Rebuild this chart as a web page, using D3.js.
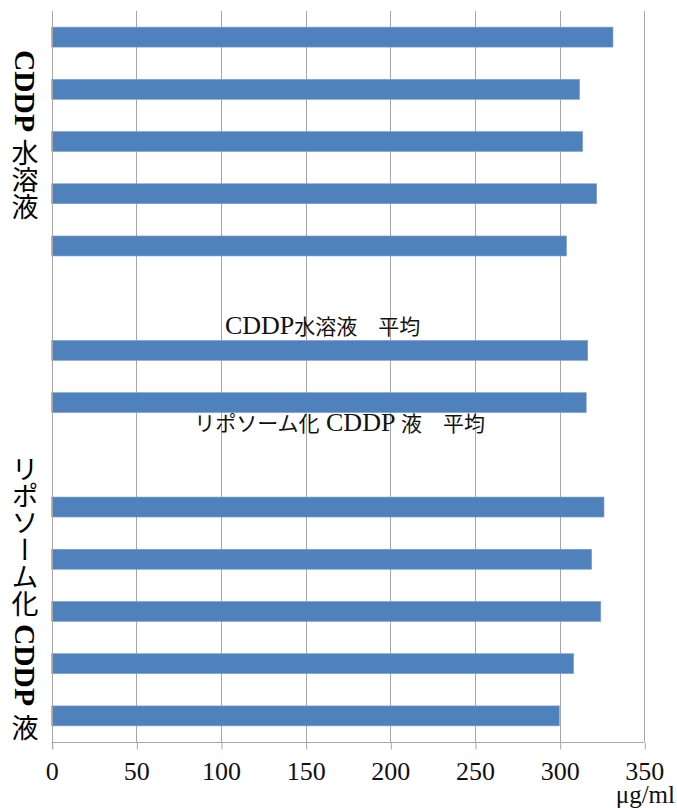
<!DOCTYPE html>
<html>
<head>
<meta charset="utf-8">
<script src="https://cdn.jsdelivr.net/npm/d3@7"></script>
<style>
  html, body { margin: 0; padding: 0; background: #fff; }
  svg { display: block; }
</style>
</head>
<body>
<div id="chart"></div>
<script>
// ---- data (top to bottom) ----
const categories = ["A1", "A2", "A3", "A4", "A5", "gap1", "A_mean", "B_mean", "gap2", "B1", "B2", "B3", "B4", "B5"];
const values = [331.5, 311.8, 313.6, 321.9, 304.1, null, 316.6, 315.7, null, 326.2, 318.9, 324.3, 308.3, 299.8];
const xTicks = [0, 50, 100, 150, 200, 250, 300, 350];
const unitLabel = "μg/ml";
const groupLabels = [
  { parts: [["CDDP", "lat"], [" ", "lat"], ["水溶液", "cjk"]] },
  { parts: [["リポソーム化", "cjk"], [" ", "lat"], ["CDDP", "lat"], [" ", "lat"], ["液", "cjk"]] }
];
const meanLabels = [
  { parts: [["CDDP", "lat"], ["水溶液", "cjk"], ["　", "cjk"], ["平均", "cjk"]], cat: "A_mean", value: 160, side: "above" },
  { parts: [["リポソーム化", "cjk"], [" ", "lat"], ["CDDP", "lat"], [" ", "lat"], ["液", "cjk"], ["　", "cjk"], ["平均", "cjk"]], cat: "B_mean", value: 170, side: "below" }
];

(function () {
const W = 677, H = 808;
const mLeft = 51.7, mRight = 644.3, mTop = 11, mBottom = 742;
const SERIF = "'Liberation Serif', 'Times New Roman', serif";
const CJK = "'Noto Sans CJK JP', sans-serif";
const svg = d3.select("#chart").append("svg").attr("width", W).attr("height", H);

const x = d3.scaleLinear().domain([0, 350]).range([mLeft, mRight]);
const y = d3.scaleBand().domain(categories).range([mTop, mBottom]).paddingInner(0.617).paddingOuter(0.3085);

const grid = "#a6a6a6";
// gridlines
svg.append("g").selectAll("line").data(xTicks).join("line")
  .attr("x1", d => Math.round(x(d)) + 0.5).attr("x2", d => Math.round(x(d)) + 0.5)
  .attr("y1", mTop).attr("y2", mBottom)
  .attr("stroke", grid).attr("stroke-width", 1);

// bars
const bars = categories.map((c, i) => ({ c, v: values[i] })).filter(d => d.v != null);
svg.append("g").selectAll("rect").data(bars).join("rect")
  .attr("x", x(0)).attr("y", d => y(d.c))
  .attr("width", d => x(d.v) - x(0)).attr("height", y.bandwidth())
  .attr("fill", "#4f81bd").attr("stroke", "#7fa3d3").attr("stroke-width", 0.6);

// x axis
const xAxis = d3.axisBottom(x).tickValues(xTicks).tickSize(7).tickPadding(12).tickFormat(d3.format("d"));
const gx = svg.append("g").attr("transform", `translate(0,${mBottom + 0.5})`).call(xAxis);
gx.attr("font-family", SERIF).attr("font-size", 26);
gx.select(".domain").attr("stroke", grid).attr("d", `M${mLeft},0H${mRight}`);
gx.selectAll(".tick line").attr("stroke", grid).attr("transform", "translate(0.5,0)");
gx.selectAll(".tick text")
  .style("font-family", SERIF).style("font-size", "26px")
  .attr("fill", "#111").attr("dy", "0.71em");

// left axis line
svg.append("line").attr("x1", Math.round(mLeft) + 0.5).attr("x2", Math.round(mLeft) + 0.5)
  .attr("y1", mTop).attr("y2", mBottom + 7).attr("stroke", grid);

// unit label
svg.append("text").attr("x", 675).attr("y", 803).attr("text-anchor", "end")
  .style("font-family", SERIF).style("font-size", "25px").attr("fill", "#111").text(unitLabel);

function addParts(t, parts, latSize, cjkSize, latWeight) {
  parts.forEach(([s, k]) => {
    t.append("tspan")
      .style("font-family", k === "lat" ? SERIF : CJK)
      .style("font-size", (k === "lat" ? latSize : cjkSize) + "px")
      .style("font-weight", k === "lat" ? latWeight : "normal")
      .text(s);
  });
}

// vertical group labels
const groupY = [50, 455];
groupLabels.forEach((g, i) => {
  const t = svg.append("text")
    .attr("x", 25).attr("y", groupY[i])
    .style("writing-mode", "vertical-rl")
    .attr("fill", "#000");
  addParts(t, g.parts, 29.5, 27, "bold");
});

// mean annotations
meanLabels.forEach(m => {
  const cy = y(m.cat) + y.bandwidth() / 2 + (m.side === "above" ? -22 : 23);
  const t = svg.append("text")
    .attr("x", x(m.value)).attr("y", cy).attr("dy", "0.35em")
    .attr("text-anchor", "middle").attr("fill", "#111");
  addParts(t, m.parts, 26, 21, "normal");
});
})();
</script>
</body>
</html>
